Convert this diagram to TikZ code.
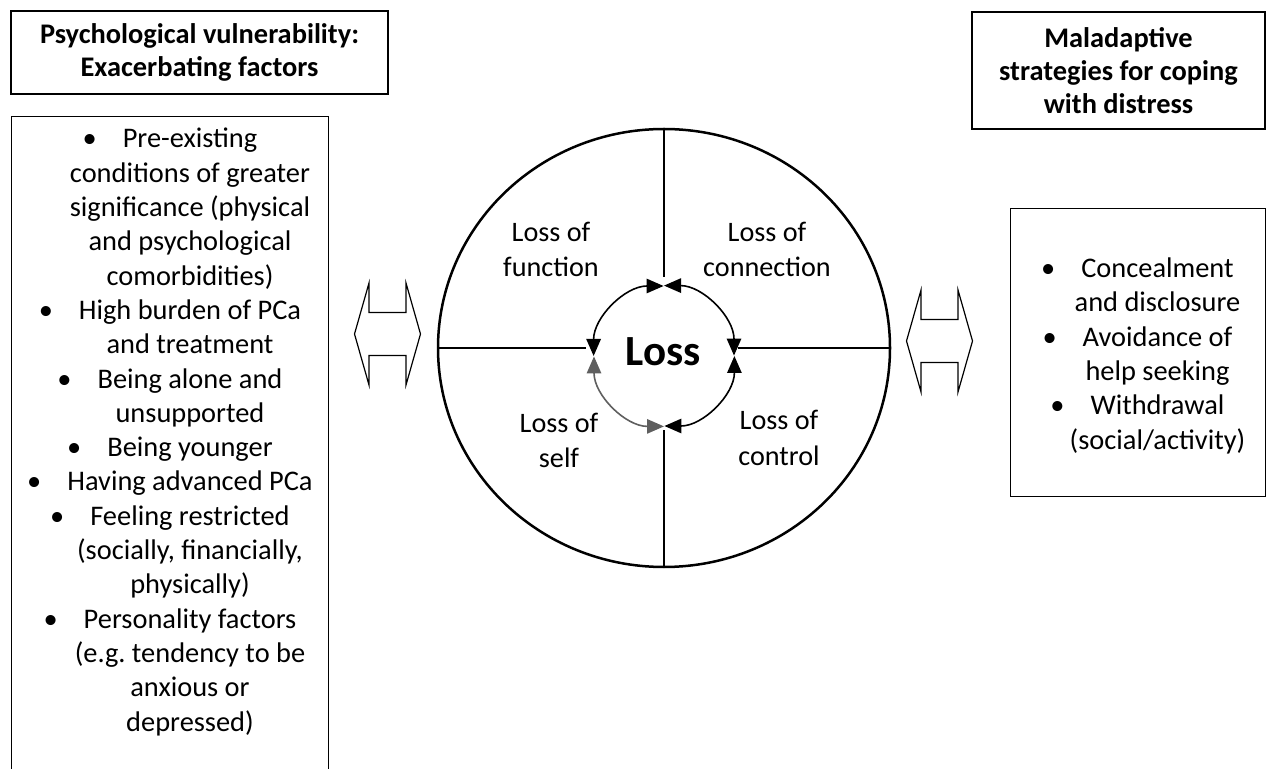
\documentclass[tikz,border=0pt]{standalone}
\usepackage{fontspec}
\setmainfont{Carlito}
\usetikzlibrary{arrows.meta,positioning,shapes.geometric}
\definecolor{fadedarc}{RGB}{95,95,95}
\newcommand{\bulletmark}{\llap{\textbullet\hspace{13pt}}}
\frenchspacing

\begin{document}
\begin{tikzpicture}[x=0.5pt,y=-0.5pt,
    box/.style={draw,line width=0.65pt,inner sep=0pt},
    headtext/.style={align=center,font=\fontsize{14.2}{16.5}\selectfont\bfseries},
    listtext/.style={align=center,inner sep=0pt,font=\fontsize{14.2}{17.15}\selectfont},
    quadtext/.style={align=center,inner sep=0pt,font=\fontsize{14.1}{17.5}\selectfont},
    looparc/.style={line width=0.8pt,{Triangle[length=8.5pt,width=7.2pt]}-{Triangle[length=8.5pt,width=7.2pt]}},
    spoke/.style={line width=0.55pt}]
  \useasboundingbox (0,0) rectangle (1272,769);

  % headings
  \node[box,headtext,minimum width=188.5pt,minimum height=41.5pt] (vuln) at (199.5,52.5)
    {Psychological vulnerability:\\Exacerbating factors};
  \node[box,headtext,minimum width=146.5pt,minimum height=58.5pt] (maladapt) at (1118.5,70.5)
    {Maladaptive\\strategies for coping\\with distress};

  % list boxes
  \node[box,minimum width=158.5pt,minimum height=342pt,anchor=north west] (factors) at (11,116) {};
  \node[listtext,anchor=base] (factorlist) at (190,731)
    {\bulletmark Pre-existing\\conditions of greater\\significance (physical\\and psychological\\comorbidities)\\
     \bulletmark High burden of PCa\\and treatment\\
     \bulletmark Being alone and\\unsupported\\
     \bulletmark Being younger\\
     \bulletmark Having advanced PCa\\
     \bulletmark Feeling restricted\\(socially, financially,\\physically)\\
     \bulletmark Personality factors\\(e.g. tendency to be\\anxious or\\depressed)};

  \node[box,minimum width=127.5pt,minimum height=144pt,anchor=north west] (coping) at (1010,208) {};
  \node[listtext,anchor=base] (copinglist) at (1157.5,449)
    {\bulletmark Concealment\\and disclosure\\
     \bulletmark Avoidance of\\help seeking\\
     \bulletmark Withdrawal\\(social/activity)};

  % double arrows
  \foreach \cx/\cy in {387.5/334,939.5/341}
    \draw[line width=0.6pt,shift={(\cx,\cy)}] (-33,0) -- (-18.5,-51) -- (-18.5,-21.5) -- (18.5,-21.5)
      -- (18.5,-51) -- (33,0) -- (18.5,51) -- (18.5,21.5) -- (-18.5,21.5) -- (-18.5,51) -- cycle;

  % loss wheel
  \node[ellipse,draw,line width=1.25pt,minimum width=226pt,minimum height=219pt,inner sep=0pt] (wheel) at (664,348) {};
  \node[circle,minimum size=70pt,inner sep=0pt] (ring) at (664,356) {};
  \node[font=\fontsize{21.5}{24}\selectfont\bfseries] (loss) at (663,352) {Loss};

  \coordinate (spokeN) at (664,277);
  \coordinate (spokeS) at (664,430);
  \coordinate (spokeW) at (586,348);
  \coordinate (spokeE) at (738,348);
  \draw[spoke] (wheel.north) -- (spokeN);
  \draw[spoke] (spokeS) -- (wheel.south);
  \draw[spoke] (wheel.west) -- (spokeW);
  \draw[spoke] (spokeE) -- (wheel.east);

  \foreach \p/\a/\c in {west/180/black,north/270/black,east/0/black,south/90/fadedarc}
    \draw[looparc,\c] (ring.\p) arc[start angle=\a,end angle=\a+90,radius=70];

  \foreach \n/\t/\x/\y in {lfunc/function/551/277,lconn/connection/767/277,lself/self/559/467,lctrl/control/779/465}
    \node[quadtext,anchor=base] (\n) at (\x,\y) {Loss of\\\t};
\end{tikzpicture}
\end{document}
